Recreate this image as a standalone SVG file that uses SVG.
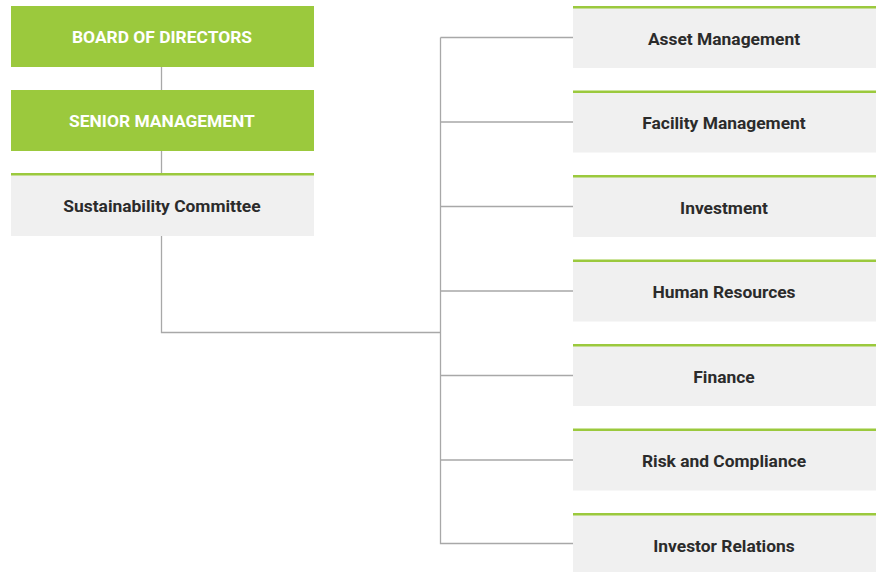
<svg xmlns="http://www.w3.org/2000/svg" width="876" height="572" viewBox="0 0 876 572">
<style>
.g{fill:#9BC93D}
.b{fill:#F0F0F0}
.t{fill:#9BC93D}
.wt{font-family:Roboto,"Liberation Sans",sans-serif;font-weight:bold;font-size:17.4px;fill:#FFFFFF;text-anchor:middle}
.dt{font-family:Roboto,"Liberation Sans",sans-serif;font-weight:bold;font-size:17.4px;fill:#2B2B2B;text-anchor:middle}
.c{fill:none;stroke:#A8A8A8;stroke-width:1.3}
</style>
<rect width="876" height="572" fill="#FFFFFF"/>
<g id="connectors">
<path class="c" d="M161.5 67V90M161.5 151V174M161.5 236V332.5H440.5"/>
<path class="c" d="M440.5 37.5V543.5H573M440.5 37.5H573M440.5 122H573M440.5 206.5H573M440.5 291H573M440.5 375.5H573M440.5 460H573"/>
</g>
<g id="board"><rect class="g" x="11" y="6" width="303" height="61"/><text class="wt" x="162" y="43">BOARD OF DIRECTORS</text></g>
<g id="senior"><rect class="g" x="11" y="90" width="303" height="61"/><text class="wt" x="162" y="127">SENIOR MANAGEMENT</text></g>
<g id="sustainability"><rect class="b" x="11" y="174" width="303" height="62"/><rect class="t" x="11" y="173" width="303" height="2.5"/><text class="dt" x="162" y="212">Sustainability Committee</text></g>
<g id="asset"><rect class="b" x="573" y="7" width="303" height="61"/><rect class="t" x="573" y="6" width="303" height="2.5"/><text class="dt" x="724" y="44.5">Asset Management</text></g>
<g id="facility"><rect class="b" x="573" y="91.5" width="303" height="61"/><rect class="t" x="573" y="90.5" width="303" height="2.5"/><text class="dt" x="724" y="129">Facility Management</text></g>
<g id="investment"><rect class="b" x="573" y="176" width="303" height="61"/><rect class="t" x="573" y="175" width="303" height="2.5"/><text class="dt" x="724" y="213.5">Investment</text></g>
<g id="hr"><rect class="b" x="573" y="260.5" width="303" height="61"/><rect class="t" x="573" y="259.5" width="303" height="2.5"/><text class="dt" x="724" y="298">Human Resources</text></g>
<g id="finance"><rect class="b" x="573" y="345" width="303" height="61"/><rect class="t" x="573" y="344" width="303" height="2.5"/><text class="dt" x="724" y="382.5">Finance</text></g>
<g id="risk"><rect class="b" x="573" y="429.5" width="303" height="61"/><rect class="t" x="573" y="428.5" width="303" height="2.5"/><text class="dt" x="724" y="467">Risk and Compliance</text></g>
<g id="investor"><rect class="b" x="573" y="514" width="303" height="58"/><rect class="t" x="573" y="513" width="303" height="2.5"/><text class="dt" x="724" y="551.5">Investor Relations</text></g>
</svg>
